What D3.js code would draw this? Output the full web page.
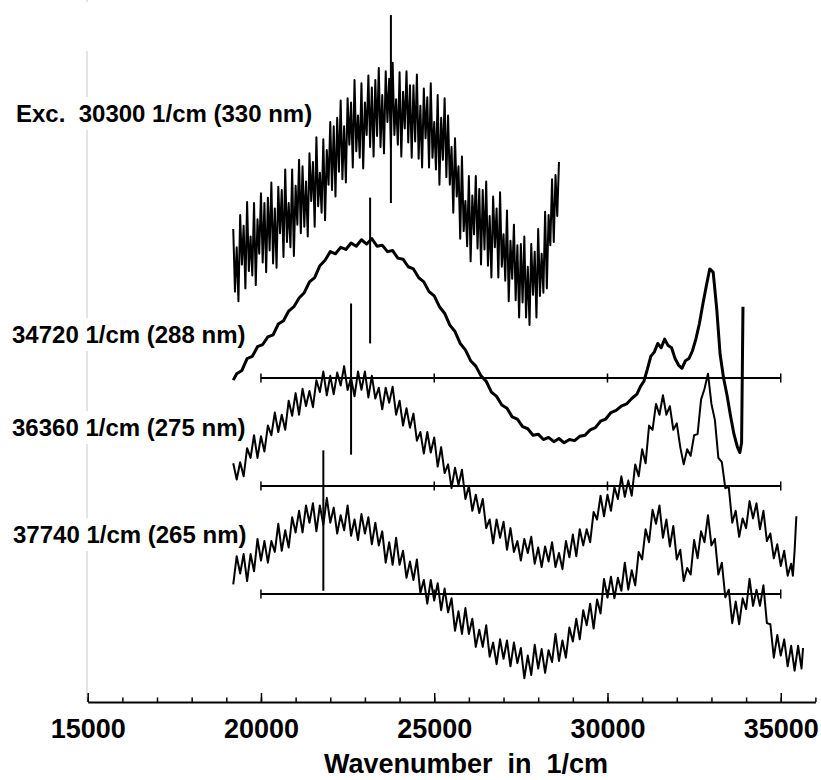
<!DOCTYPE html>
<html>
<head>
<meta charset="utf-8">
<script src="https://cdnjs.cloudflare.com/ajax/libs/d3/7.8.5/d3.min.js"></script>
<style>
  body { margin: 0; background: #fff; }
  text { font-family: "Liberation Sans", Arial, sans-serif; font-weight: bold; fill: #000; white-space: pre; }
</style>
</head>
<body>
<div id="chart"></div>
<script>
// intensities are in stacked arbitrary units (each lower spectrum sits on its own baseline)

// Exc. 30300 1/cm, sampled every 50 1/cm from 19200 to 28600
const wn30300 = d3.range(19200, 28601, 50);
const exc30300 = [
  438,380,421,371,451,405,441,383,463,399,431,395,462,386,447,415,471,407,462,398,
  467,418,481,406,457,402,477,434,474,412,493,426,462,421,493,413,478,442,502,434,
  496,440,482,431,508,464,500,440,523,459,490,453,521,446,511,479,537,474,533,468,
  541,491,557,484,533,481,559,516,555,495,576,510,543,504,573,494,555,525,580,514,
  569,505,576,524,587,514,562,508,584,537,577,514,592,525,558,516,583,505,565,531,
  584,518,571,504,571,519,581,503,552,495,568,522,560,495,573,504,537,493,562,479,
  541,502,559,486,543,479,514,453,522,468,496,429,505,436,464,422,487,408,469,433,
  487,420,475,405,474,419,482,404,450,393,468,421,457,393,472,403,433,390,455,371,
  427,392,442,372,423,356,424,370,431,356,403,349,424,377,417,356,438,376,415,379,
  454,383,451,423,484,426,488,450,500];

// Exc. 34720 1/cm: [wavenumber, intensity]
const exc34720 = [[19200,298],[19300,304],[19450,307],[19600,318],[19750,320],[19900,329],[20050,331],[20200,338],[20350,340],[20500,350],
  [20650,353],[20800,362],[20950,366],[21100,374],[21250,379],[21400,389],[21550,393],[21700,404],[21850,409],[22000,417],
  [22150,415],[22300,421],[22450,419],[22600,425],[22750,422],[22900,428],[23050,424],[23200,429],[23350,422],[23500,423],
  [23650,417],[23800,418],[23950,411],[24100,410],[24250,403],[24400,401],[24550,393],[24700,389],[24850,380],[25000,376],
  [25150,366],[25300,360],[25450,349],[25600,343],[25750,332],[25900,326],[26050,316],[26200,311],[26350,302],[26500,297],
  [26650,287],[26800,283],[26950,275],[27100,272],[27250,264],[27400,262],[27550,255],[27700,253],[27850,247],[28000,248],
  [28150,243],[28300,245],[28450,241],[28600,244],[28750,240],[28900,243],[29050,242],[29200,246],[29350,247],[29500,252],
  [29650,254],[29800,260],[29950,262],[30100,268],[30250,270],[30400,274],[30550,276],[30700,281],[30850,285],[30950,292],
  [31050,297],[31150,308],[31250,320],[31350,324],[31450,332],[31550,328],[31650,336],[31750,330],[31850,328],[31950,318],
  [32050,312],[32150,309],[32250,316],[32350,318],[32450,325],[32550,336],[32650,350],[32750,368],[32850,385],[32950,401],
  [33050,398],[33150,365],[33250,322],[33350,300],[33450,284],[33550,265],[33650,248],[33750,236],[33820,231],[33870,240],
  [33910,366]];

// Exc. 36360 1/cm, every 100 1/cm from 19200 to 35300, then the last few points
const wn36360 = d3.range(19200, 35301, 100);
const exc36360 = [
  221,206,222,209,235,226,247,226,246,232,
  256,247,268,250,266,252,279,265,286,266,
  290,274,288,273,298,287,306,284,302,285,
  305,293,311,289,300,283,306,289,306,282,
  302,281,291,271,291,277,292,266,279,256,
  272,254,267,242,250,230,250,231,245,218,
  236,212,220,198,217,201,215,188,200,177,
  192,175,188,161,169,147,169,152,167,141,
  161,139,149,131,151,138,153,128,143,125,
  144,130,148,125,138,123,149,134,155,135,
  160,145,160,148,176,169,191,172,192,177,
  199,188,209,190,205,191,220,209,234,221,
  256,252,276,266,284,266,274,252,258,236,
  220,234,228,247,248,280,290,304,276,261,
  226,222,198,199,166,177,153,170,161,186,
  170,184,160,177,149,156,133,146,126,140,
  117,128];
const end36360 = [[35350,117],[35400,140],[35450,172]];

// Exc. 37740 1/cm, every 100 1/cm from 19200 to 35600, then the last point
const wn37740 = d3.range(19200, 35601, 100);
const exc37740 = [
  109,135,119,137,112,137,121,151,131,149,
  129,149,139,165,140,159,143,171,157,177,
  157,182,166,184,158,182,164,189,166,180,
  156,173,159,182,154,169,150,174,156,171,
  146,166,145,158,129,148,127,152,127,140,
  115,130,113,132,101,113,91,113,94,110,
  85,105,83,96,66,84,63,87,63,77,
  51,67,51,71,42,55,35,58,40,57,
  33,55,36,50,22,43,25,53,31,49,
  27,48,37,63,38,57,41,69,56,77,
  58,85,71,91,68,95,82,114,97,116,
  96,115,103,129,104,122,108,139,132,160,
  148,178,165,182,152,169,144,163,132,141,
  112,124,118,150,133,158,148,173,145,151,
  118,129,97,104,73,93,72,96,86,114,
  89,104,89,108,73,72,41,62,43,58,
  33,52,29,52,31];
const end37740 = [[35643,50]];

const seriesLabels = ["Exc.  30300 1/cm (330 nm)", "34720 1/cm (288 nm)", "36360 1/cm (275 nm)", "37740 1/cm (265 nm)"];

// reference lines under the lower three spectra
const baselineLevels = [300, 200, 100];
const baselineTicks = [20000, 25000, 30000, 35000];

// vertical markers for each spectrum
const markerWn = [23750, 23150, 22600, 21800];
const markerTop = [636, 467, 369, 233];
const markerBottom = [462, 332, 229, 103];

const majorTicks = [15000, 20000, 25000, 30000, 35000];
const minorTicks = [15000, 16000, 17000, 18000, 19000, 20000, 21000, 22000, 23000, 24000, 25000,
                    26000, 27000, 28000, 29000, 30000, 31000, 32000, 33000, 34000, 35000, 36000];

const width = 821, height = 780;
const svg = d3.select("#chart").append("svg")
  .attr("width", width).attr("height", height);
svg.append("rect").attr("width", width).attr("height", height).attr("fill", "#fff");

const xScale = d3.scaleLinear().domain([15000, 36000]).range([87.7, 815.4]);
const yScale = d3.scaleLinear().domain([0, 650]).range([702, 0]);

// faint left axis
svg.append("line")
  .attr("x1", 87).attr("x2", 87).attr("y1", 0).attr("y2", 702)
  .attr("stroke", "#c8c8c8").attr("stroke-width", 1);
svg.append("rect").attr("x", 80).attr("y", 2).attr("width", 14).attr("height", 49).attr("fill", "#fff");

// spectra
const zip = (wn, vals) => wn.map((w, i) => [w, vals[i]]);
const spectra = [
  zip(wn30300, exc30300),
  exc34720,
  zip(wn36360, exc36360).concat(end36360),
  zip(wn37740, exc37740).concat(end37740)
];
const lineGen = d3.line().x(d => xScale(d[0])).y(d => yScale(d[1]));
svg.append("g").selectAll("path").data(spectra)
  .join("path")
  .attr("fill", "none")
  .attr("stroke", "#000")
  .attr("stroke-width", (d, i) => i == 1 ? 3 : 2)
  .attr("stroke-linejoin", "round")
  .attr("d", d => lineGen(d));

// baselines with cross ticks
const bl = svg.append("g");
bl.selectAll("line.base").data(baselineLevels)
  .join("line").attr("class", "base")
  .attr("x1", xScale(20000)).attr("x2", xScale(35000))
  .attr("y1", d => yScale(d)).attr("y2", d => yScale(d))
  .attr("stroke", "#000").attr("stroke-width", 2);
baselineLevels.forEach(lv => {
  bl.append("g").selectAll("line").data(baselineTicks)
    .join("line")
    .attr("x1", d => xScale(d)).attr("x2", d => xScale(d))
    .attr("y1", yScale(lv) - 4.5).attr("y2", yScale(lv) + 4.5)
    .attr("stroke", "#000").attr("stroke-width", 1.5);
});

// markers
svg.append("g").selectAll("line").data(markerWn)
  .join("line")
  .attr("x1", d => xScale(d)).attr("x2", d => xScale(d))
  .attr("y1", (d, i) => yScale(markerTop[i]))
  .attr("y2", (d, i) => yScale(markerBottom[i]))
  .attr("stroke", "#000").attr("stroke-width", 2);

// labels on white boxes
const labelPos = [[16, 122], [12, 343], [12, 436], [13, 543]];
const lab = svg.append("g");
seriesLabels.forEach((t, i) => {
  const g = lab.append("g");
  const txt = g.append("text")
    .attr("x", labelPos[i][0]).attr("y", labelPos[i][1])
    .style("font-size", "24px")
    .text(t);
  const bb = txt.node().getBBox();
  g.insert("rect", "text")
    .attr("x", bb.x - 2).attr("y", bb.y - 3)
    .attr("width", bb.width + 4).attr("height", bb.height + 6)
    .attr("fill", "#fff");
});

// bottom axis, ticks pointing up
const minorAxis = d3.axisBottom(xScale).tickValues(minorTicks).tickSizeInner(-4.5).tickSizeOuter(0).tickFormat("");
const gMinor = svg.append("g").attr("transform", "translate(0,702)").call(minorAxis);
gMinor.select(".domain").attr("stroke-width", 2);
gMinor.selectAll(".tick line").attr("stroke-width", 1.5);

const majorAxis = d3.axisBottom(xScale).tickValues(majorTicks).tickSizeInner(-9).tickSizeOuter(0)
  .tickPadding(17).tickFormat(d3.format("d"));
const gMajor = svg.append("g").attr("transform", "translate(0,702)").call(majorAxis);
gMajor.select(".domain").remove();
gMajor.selectAll(".tick line").attr("stroke-width", 1.5);
gMajor.selectAll(".tick text")
  .style("font-family", "'Liberation Sans', Arial, sans-serif")
  .style("font-weight", "bold")
  .style("font-size", "27px");

svg.append("text")
  .attr("x", 466).attr("y", 773)
  .attr("text-anchor", "middle")
  .style("font-size", "27px")
  .text("Wavenumber  in  1/cm");
</script>
</body>
</html>
